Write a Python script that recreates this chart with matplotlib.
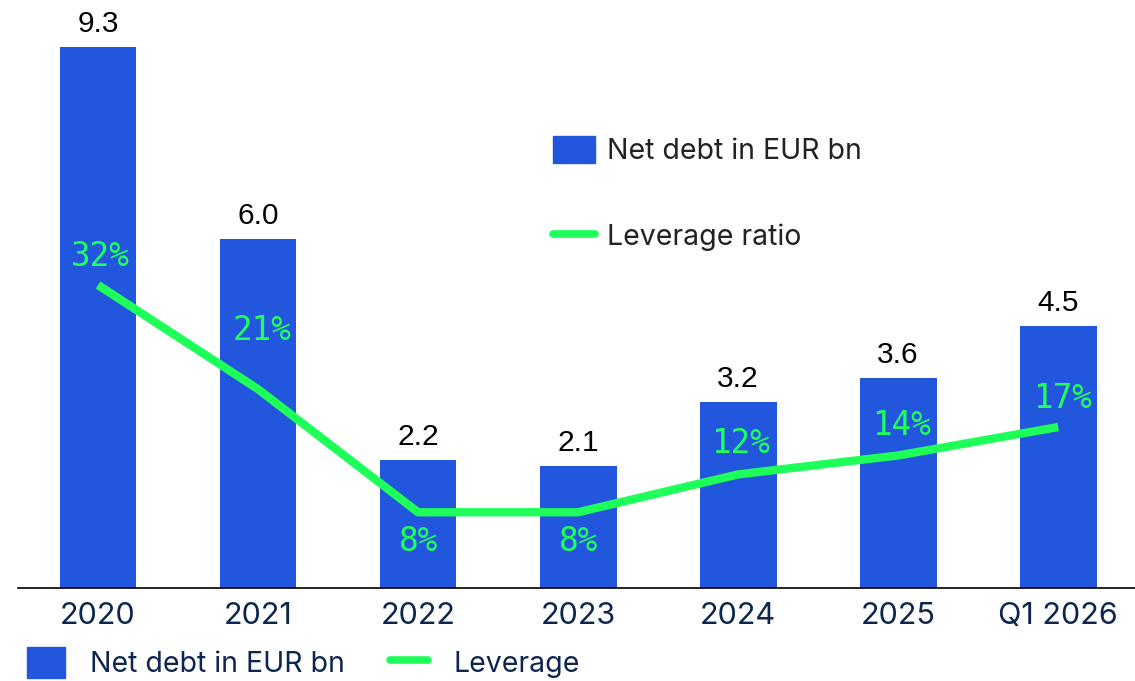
import matplotlib.pyplot as plt
from matplotlib.patches import Patch
from matplotlib.lines import Line2D

# data
periods = ["2020", "2021", "2022", "2023", "2024", "2025", "Q1 2026"]
net_debt = [9.3, 6.0, 2.2, 2.1, 3.2, 3.6, 4.5]
leverage = [32, 21, 8, 8, 12, 14, 17]

BLUE = "#2257dd"
GREEN = "#1eff5a"
NAVY = "#0d2650"

# label offsets in pixels (dx, dy) for the leverage labels
lev_offsets = [(2, 29), (4, 59), (0, -29), (0, -29), (2, 31), (3, 30), (4, 29)]

fig = plt.figure(figsize=(11.35, 6.81), dpi=100)
ax = fig.add_axes([18 / 1135, 93 / 681, 1117 / 1135, 588 / 681])
ax2 = ax.twinx()
ax2.set_position(ax.get_position())

x = list(range(len(periods)))
ax.bar(x, net_debt, width=0.48, color=BLUE, zorder=2)
ax.set_xlim(-0.5, 6.48)
ax.set_ylim(0, 10.1)
ax2.set_ylim(0, 62.1)

for xi, v in zip(x, net_debt):
    ax.annotate(f"{v:.1f}", (xi, v), xytext=(0, 23), textcoords="offset pixels",
                ha="center", va="center", fontsize=21.5, color="black",
                family="Liberation Sans")

ax2.plot(x, leverage, color=GREEN, lw=6, solid_capstyle="butt",
         solid_joinstyle="round", zorder=3)
for xi, v, (dx, dy) in zip(x, leverage, lev_offsets):
    ax2.annotate(f"{v}%", (xi, v), xytext=(dx, dy), textcoords="offset pixels",
                 ha="center", va="center", fontsize=23.5, color=GREEN,
                 family="DejaVu Sans Mono")

ax.set_xticks(x)
ax.set_xticklabels(periods, fontsize=22, color=NAVY, family="Inter")
ax.tick_params(axis="x", length=0, pad=10)
ax.set_yticks([])
ax2.set_yticks([])
for a in (ax, ax2):
    for s in ("top", "right", "left"):
        a.spines[s].set_visible(False)
ax2.spines["bottom"].set_visible(False)
ax.spines["bottom"].set_linewidth(1.2)

# legend inside the plot
h1 = [Patch(color=BLUE, label="Net debt in EUR bn"),
      Line2D([], [], color=GREEN, lw=5.5, solid_capstyle="round", label="Leverage ratio")]
leg1 = fig.legend(handles=h1, loc="upper left", bbox_to_anchor=(553 / 1135, 1 - 136 / 681),
                  frameon=False, prop={"family": "Inter", "size": 20.5},
                  handlelength=1.47, handleheight=1.09, handletextpad=0.42,
                  labelspacing=2.0, borderpad=0, borderaxespad=0)
for t in leg1.get_texts():
    t.set_color("#222222")

# legend below the axis
h2 = [Patch(color=BLUE, label="Net debt in EUR bn"),
      Line2D([], [], color=GREEN, lw=5.5, solid_capstyle="round", label="Leverage")]
leg2 = fig.legend(handles=h2, loc="upper left", bbox_to_anchor=(27 / 1135, 1 - 647 / 681),
                  ncol=2, frameon=False, prop={"family": "Inter", "size": 20.5},
                  handlelength=1.33, handleheight=1.32, handletextpad=0.88,
                  columnspacing=1.6, borderpad=0, borderaxespad=0)
for t in leg2.get_texts():
    t.set_color(NAVY)

fig.savefig("out.png", dpi=100)
